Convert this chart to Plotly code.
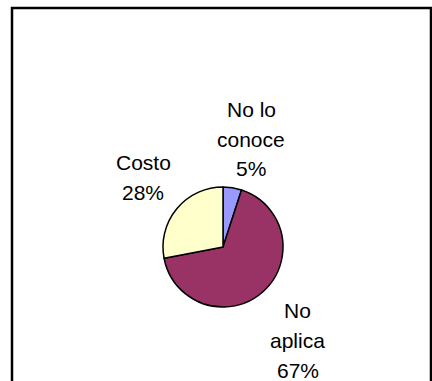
import plotly.graph_objects as go

labels = ["No lo<br>conoce", "No<br>aplica", "Costo"]
values = [5, 67, 28]
colors = ["#9999FF", "#993366", "#FFFFCC"]
# label block layout: (center x px, first-line center y px) -- layout only
label_pos = [(251, 109), (297.5, 310.5), (143, 162.5)]
LINE_GAP = 30  # px between text lines

W, H = 432, 381
cx, cy, r = 223, 247, 60

fig = go.Figure(go.Pie(
    labels=labels, values=values, sort=False, direction="clockwise", rotation=0,
    marker=dict(colors=colors, line=dict(color="black", width=1.5)),
    textinfo="none", hoverinfo="label+percent", showlegend=False,
    domain=dict(x=[(cx - r) / W, (cx + r) / W], y=[(H - cy - r) / H, (H - cy + r) / H]),
))

total = sum(values)
for lab, v, (px, py) in zip(labels, values, label_pos):
    lines = lab.split("<br>") + [f"{round(100 * v / total)}%"]
    for i, line in enumerate(lines):
        fig.add_annotation(
            x=px / W, y=1 - (py + i * LINE_GAP) / H, xref="paper", yref="paper",
            text=line, showarrow=False,
            font=dict(family="Liberation Sans, Arial", size=21, color="black"),
            align="center", xanchor="center", yanchor="middle",
        )

fig.add_shape(type="rect", xref="paper", yref="paper",
              x0=12 / W, x1=431 / W, y0=-20 / H, y1=1 - 8 / H,
              line=dict(color="black", width=2.5), fillcolor="rgba(0,0,0,0)")

fig.update_layout(width=W, height=H, margin=dict(l=0, r=0, t=0, b=0),
                  paper_bgcolor="white", plot_bgcolor="white")
fig.write_html("out.html")
